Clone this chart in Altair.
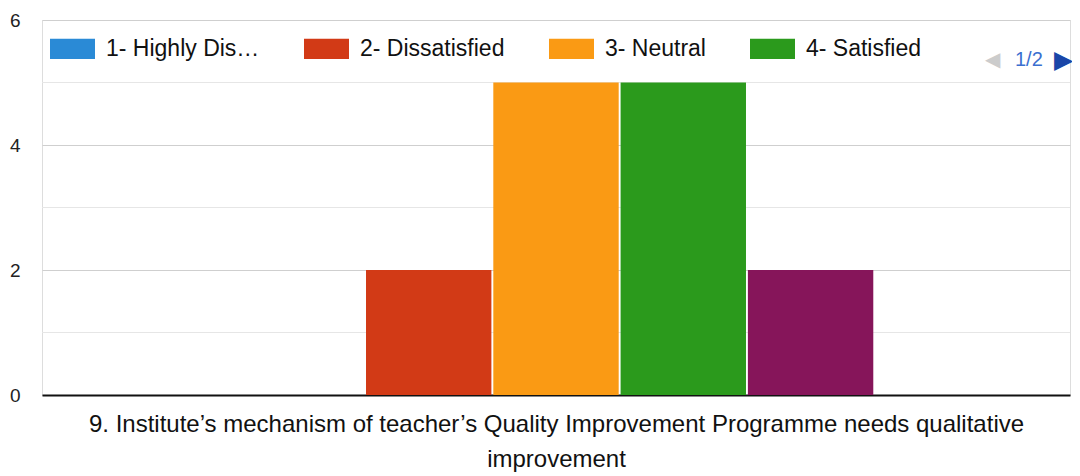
import altair as alt
import pandas as pd

categories = ["1- Highly Dissatisfied", "2- Dissatisfied", "3- Neutral", "4- Satisfied", "5- Highly Satisfied"]
counts = [0, 2, 5, 5, 2]
colors = ["#2a8ad6", "#d23a16", "#fa9a14", "#2b9a1c", "#86155a"]
major_ticks = [0, 2, 4, 6]
minor_ticks = [1, 3, 5]
question = ["9. Institute\u2019s mechanism of teacher\u2019s Quality Improvement Programme needs qualitative",
            "improvement"]

FONT = "Liberation Sans"
W, H = 1028, 375

df = pd.DataFrame({"cat": categories, "count": counts, "q": "Q9"})
minor_df = pd.DataFrame({"v": minor_ticks})

bars = alt.Chart(df).mark_bar().encode(
    x=alt.X("q:N",
            scale=alt.Scale(paddingOuter=0.31, paddingInner=0.0),
            axis=alt.Axis(labels=False, ticks=False, domain=True, domainColor="#111",
                          domainWidth=2, title=question, titleFont=FONT, titleFontSize=24,
                          titleFontWeight="normal", titleColor="#111", titleLineHeight=35,
                          titlePadding=17)),
    xOffset=alt.XOffset("cat:N", sort=categories,
                        scale=alt.Scale(domain=categories, paddingInner=0.015, paddingOuter=0)),
    y=alt.Y("count:Q", scale=alt.Scale(domain=[0, 6], nice=False),
            axis=alt.Axis(values=major_ticks, format="d", grid=True, gridColor="#cfcfcf",
                          gridWidth=1, domain=False, ticks=False, labelFont=FONT,
                          labelFontSize=19, labelColor="#222", labelPadding=22, title=None)),
    color=alt.Color("cat:N",
                    scale=alt.Scale(domain=categories, range=colors),
                    legend=alt.Legend(values=categories[:4], orient="none", legendX=8, legendY=6,
                                      direction="horizontal", columns=4, title=None,
                                      symbolType="M-1,-0.45L1,-0.45L1,0.45L-1,0.45Z",
                                      symbolSize=2025, symbolStrokeWidth=0, symbolOpacity=1,
                                      labelFont=FONT, labelFontSize=23, labelColor="#111",
                                      labelLimit=155, labelOffset=11, columnPadding=44)),
)

minor = alt.Chart(minor_df).mark_rule(color="#e6e6e6", strokeWidth=1).encode(
    y=alt.Y("v:Q", scale=alt.Scale(domain=[0, 6], nice=False)),
    x=alt.value(0), x2=alt.value(W),
)

pager = alt.Chart(pd.DataFrame({"t": ["1/2"]})).mark_text(
    font=FONT, fontSize=20, color="#3b6fd0", align="left", baseline="middle"
).encode(text="t:N", x=alt.value(973), y=alt.value(40))
left_arrow = alt.Chart(pd.DataFrame({"t": ["\u25c0"]})).mark_text(
    font="DejaVu Sans", fontSize=20, color="#cccccc", align="left", baseline="middle"
).encode(text="t:N", x=alt.value(943), y=alt.value(40))
right_arrow = alt.Chart(pd.DataFrame({"t": ["\u25b6"]})).mark_text(
    font="DejaVu Sans", fontSize=25, color="#1a46a8", align="left", baseline="middle"
).encode(text="t:N", x=alt.value(1012), y=alt.value(40))

chart = alt.layer(minor, bars, pager, left_arrow, right_arrow).properties(
    width=W, height=H,
    autosize=alt.AutoSizeParams(type="none"),
    padding={"left": 34, "top": 12, "right": 2, "bottom": 78},
).configure_view(stroke=None).configure(background="white")

chart.save("out.html", embed_options={"renderer": "svg", "actions": False})
